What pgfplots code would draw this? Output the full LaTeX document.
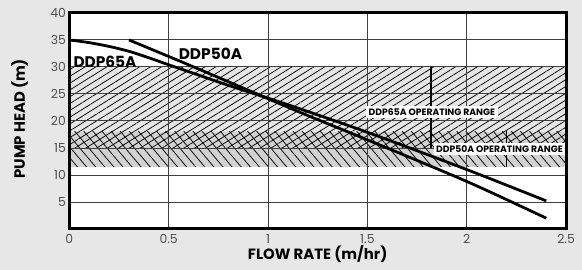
\documentclass[border=0pt]{standalone}
\usepackage{pgfplots}
\pgfplotsset{compat=1.18}
\usetikzlibrary{patterns.meta}
\usepackage{fontspec}
\setmainfont{Poppins}
\definecolor{figbg}{HTML}{E6E7E6}
\definecolor{ticklab}{HTML}{505050}
\definecolor{gridc}{HTML}{404040}
\definecolor{hatchA}{HTML}{E6E6E6}
\definecolor{hatchB}{HTML}{D2D2D2}
\begin{document}
\pagecolor{figbg}
\begin{tikzpicture}
\begin{axis}[
  at={(0,0)}, anchor=south west,
  scale only axis, width=499bp, height=217bp,
  xmin=0, xmax=2.5, ymin=0, ymax=40,
  xtick={0,0.5,1,1.5,2,2.5}, ytick={5,10,15,20,25,30,35,40},
  grid=major, major grid style={gridc, line width=0.9bp},
  major tick length=0pt,
  axis line style={black, line width=3bp},
  axis background/.style={fill=white},
  set layers=standard,
  ticklabel style={font=\fontsize{12.5}{12.5}\selectfont, text=ticklab},
  /pgf/number format/assume math mode=true,
  xticklabel style={yshift=-2bp},
  yticklabel style={xshift=0bp},
  xlabel={FLOW RATE (m/hr)},
  ylabel={PUMP HEAD (m)},
  label style={font=\fontsize{15}{15}\selectfont\bfseries},
  xlabel style={at={(axis description cs:0.5,-0.115)}, anchor=center},
  ylabel style={at={(axis description cs:-0.1,0.51)}, anchor=center},
  clip=false,
]
% operating range fills and hatching
\addplot[on layer=axis background, draw=none, fill=hatchA] coordinates {(0,15) (2.5,15) (2.5,30) (0,30)} -- cycle;
\addplot[on layer=axis background, draw=none, fill=hatchB] coordinates {(0,11.5) (2.5,11.5) (2.5,18) (0,18)} -- cycle;
\addplot[on layer=axis background, draw=none, pattern={Lines[angle=32,distance=5.8bp,line width=0.75bp]}, pattern color=black] coordinates {(0,15) (2.5,15) (2.5,30) (0,30)} -- cycle;
\addplot[on layer=axis background, draw=none, pattern={Lines[angle=-50,distance=7bp,line width=0.75bp]}, pattern color=black] coordinates {(0,11.5) (2.5,11.5) (2.5,18) (0,18)} -- cycle;
% range markers
\addplot[black, line width=1.3bp] coordinates {(1.82,30) (1.82,15)};
\addplot[black, line width=1.3bp] coordinates {(2.2,18.2) (2.2,11.5)};
% pump curves
\addplot[black, line width=2.8bp, smooth] coordinates {(0,35) (0.1,34.5) (0.2,33.8) (0.3,32.9) (0.4,31.7) (0.5,30.4) (0.65,28.5) (0.8,26.6) (1.1,23.0) (1.5,17.9) (2.0,11.0) (2.4,5.2)};
\addplot[black, line width=2.8bp, smooth] coordinates {(0.3,35) (0.6,30.4) (0.9,25.7) (1.2,21.0) (1.5,16.5) (2.0,8.8) (2.4,2.0)};
% labels
\node[anchor=south west, font=\fontsize{15.5}{15.5}\selectfont\bfseries, inner sep=0pt] at (axis cs:0.02,29.9) {DDP65A};
\node[anchor=south west, font=\fontsize{15.5}{15.5}\selectfont\bfseries, inner sep=0pt] at (axis cs:0.55,31.3) {DDP50A};
\node[fill=white, font=\fontsize{9.3}{9.3}\selectfont\bfseries, inner sep=2.5bp] at (axis cs:1.825,21.6) {DDP65A OPERATING RANGE};
\node[fill=white, font=\fontsize{9.3}{9.3}\selectfont\bfseries, inner sep=2.5bp] at (axis cs:2.165,14.8) {DDP50A OPERATING RANGE};
\end{axis}
\path (-67bp,-41bp) rectangle (515bp,230bp);
\end{tikzpicture}
\end{document}
